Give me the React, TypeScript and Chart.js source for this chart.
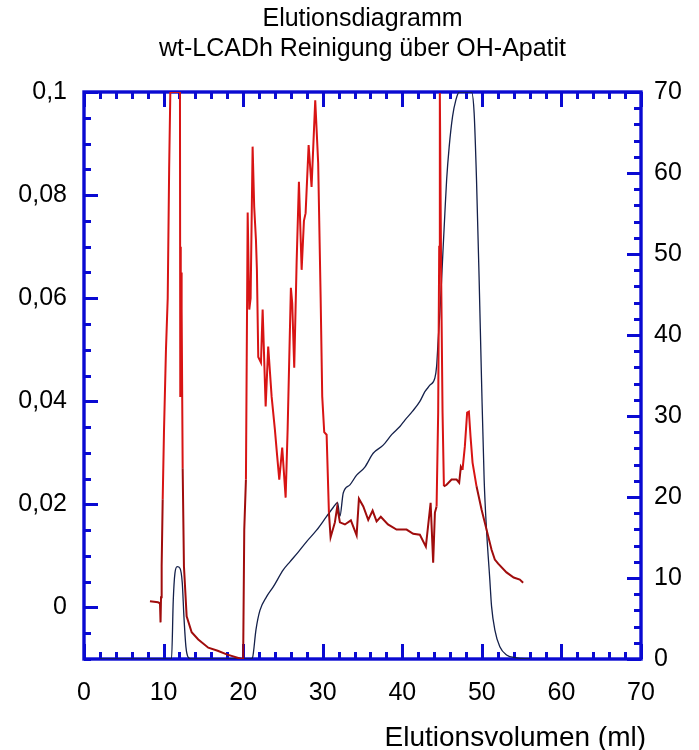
import React, { useEffect, useRef } from "react";
import { Chart, registerables } from "chart.js";

Chart.register(...registerables);

// Absorbance (left axis)
const absX = [8.29, 8.8, 9.3, 9.55, 9.62, 9.68, 9.76, 9.89, 10.05, 10.3,
  10.52, 10.7, 10.85, 11.5, 12.06, 12.1, 12.14, 12.18, 12.22, 12.27,
  12.4, 12.56, 12.9, 13.53, 14.36, 15.62, 16.8, 17.93, 19.6, 20.0,
  20.14, 20.35, 20.57, 20.77, 20.94, 21.19, 21.39, 21.61, 21.73, 21.9,
  22.24, 22.45, 22.83, 23.15, 23.58, 23.99, 24.28, 24.54, 24.91, 25.34,
  25.59, 26.0, 26.17, 26.42, 26.72, 27.01, 27.35, 27.64, 27.85, 28.23,
  28.6, 29.06, 29.43, 29.74, 29.94, 30.19, 30.49, 30.78, 30.99, 31.53,
  31.82, 32.16, 32.79, 33.54, 34.26, 34.55, 35.1, 35.72, 36.27, 36.77,
  37.3, 38.2, 39.28, 40.54, 41.37, 42.21, 42.96, 43.56, 43.88, 44.1,
  44.31, 44.51, 44.64, 44.72, 44.89, 45.06, 45.23, 45.57, 46.19, 46.82,
  47.15, 47.36, 47.57, 47.86, 48.15, 48.37, 48.58, 48.83, 49.33, 49.96,
  50.59, 51.22, 51.63, 52.05, 53.1, 54.0, 54.77, 55.19];
const absY = [0.0012, 0.0011, 0.001, 0.0008, -0.0029, 0.002, 0.008, 0.021, 0.034, 0.05,
  0.06, 0.085, 0.1, 0.1, 0.1, 0.041, 0.07, 0.045, 0.065, 0.058,
  0.027, 0.008, -0.0017, -0.0048, -0.0062, -0.0078, -0.0084, -0.0091, -0.0099, -0.0101,
  0.0151, 0.0248, 0.0766, 0.0578, 0.06, 0.0894, 0.0777, 0.0713, 0.0655, 0.0486,
  0.0475, 0.0578, 0.039, 0.0506, 0.0409, 0.0345, 0.0293, 0.0248, 0.031, 0.0213,
  0.0345, 0.062, 0.059, 0.0465, 0.0669, 0.0826, 0.0655, 0.075, 0.0765, 0.0897,
  0.0816, 0.0984, 0.0862, 0.06, 0.0409, 0.034, 0.0335, 0.0184, 0.0136, 0.0165,
  0.0195, 0.0165, 0.0161, 0.0169, 0.014, 0.0211, 0.0196, 0.017, 0.0188, 0.0167,
  0.0176, 0.0161, 0.0151, 0.0151, 0.0143, 0.0141, 0.0118, 0.0203, 0.0087, 0.0184,
  0.0196, 0.0378, 0.07, 0.0998, 0.0636, 0.0378, 0.0235, 0.0238, 0.0248, 0.0248,
  0.0242, 0.0273, 0.0267, 0.0312, 0.0378, 0.038, 0.0331, 0.0281, 0.0235, 0.019,
  0.0151, 0.0112, 0.0093, 0.0085, 0.0068, 0.0058, 0.0054, 0.0048];

// Conductivity (right axis)
const condX = [2, 11.0, 11.22, 11.43, 11.72, 12.06, 12.35, 12.56, 12.81, 13.1,
  13.53, 21.0, 21.19, 21.61, 22.11, 22.95, 23.78, 25.04, 25.88, 26.92,
  27.98, 29.23, 30.49, 31.32, 31.87, 32.16, 32.58, 33.42, 34.26, 35.3,
  36.34, 37.6, 38.66, 39.7, 40.33, 41.3, 42.21, 42.84, 43.47, 44.1,
  44.31, 44.51, 44.72, 44.94, 45.14, 45.35, 45.57, 45.89, 46.32, 46.73,
  47.15, 48.7, 49.03, 49.33, 49.66, 49.96, 50.29, 50.59, 51.0, 51.22,
  51.63, 52.26, 53.1, 54.36, 56.03];
const condY = [0, 0, 7.3, 10.6, 11.4, 11.2, 9.4, 5.2, 1.5, 0.2,
  0, 0, 0.2, 3.6, 6.0, 7.7, 8.9, 11.0, 12.0, 13.2,
  14.5, 15.9, 17.6, 18.7, 19.3, 17.6, 20.5, 21.5, 22.7, 23.7,
  25.4, 26.4, 27.7, 28.7, 29.5, 30.6, 31.8, 33.0, 33.8, 34.7,
  36.1, 39.4, 42.7, 46.8, 50.9, 55.0, 59.1, 63.2, 67.0, 69.0,
  70, 70, 67.4, 59.1, 46.8, 34.4, 22.1, 15.9, 9.8, 6.5,
  3.6, 1.5, 0.5, 0.15, 0];

const xTickValues = [0, 10, 20, 30, 40, 50, 60, 70];
const leftTickValues = [0, 0.02, 0.04, 0.06, 0.08, 0.1];
const rightTickValues = [0, 10, 20, 30, 40, 50, 60, 70];
const titleLines = ["Elutionsdiagramm", "wt-LCADh Reinigung über OH-Apatit"];
const xAxisTitle = "Elutionsvolumen (ml)";

const FONT = "'Liberation Sans', Arial, Helvetica, sans-serif";
const AXIS_BLUE = "#0a0ad2";
const TICK_FONT = 25;

const zip = (xs: number[], ys: number[]) => xs.map((x, i) => ({ x, y: ys[i] }));

const fmtLeft = (v: number) => {
  const r = Math.round(v * 1000) / 1000;
  return String(r).replace(".", ",");
};

const framePlugin = {
  id: "framePlugin",
  beforeDatasetsDraw(chart: any) {
    const { ctx, chartArea: a, scales } = chart;
    const xs = scales.x, yl = scales.y, yr = scales.y1;
    ctx.save();
    ctx.strokeStyle = AXIS_BLUE;
    ctx.lineCap = "butt";
    const seg = (x1: number, y1: number, x2: number, y2: number) => {
      ctx.beginPath(); ctx.moveTo(x1, y1); ctx.lineTo(x2, y2); ctx.stroke();
    };
    ctx.lineWidth = 3;
    for (let i = 0; i <= 35; i++) {
      const v = i * 2;
      const px = Math.round(xs.getPixelForValue(v)) + 0.5;
      const len = v % 10 === 0 ? 15 : 7;
      seg(px, a.top, px, a.top + len);
      seg(px, a.bottom, px, a.bottom - len);
    }
    for (let i = 0; i <= 22; i++) {
      const v = -0.01 + i * 0.005;
      const py = Math.round(yl.getPixelForValue(v)) + 0.5;
      const major = Math.abs(Math.round(v * 1000) % 20) === 0;
      seg(a.left, py, a.left + (major ? 14 : 7), py);
    }
    for (let i = 0; i <= 35; i++) {
      const v = i * 2;
      const py = Math.round(yr.getPixelForValue(v)) + 0.5;
      const len = v % 10 === 0 ? 14 : 7;
      seg(a.right, py, a.right - len, py);
    }
    ctx.lineWidth = 3.4;
    ctx.strokeRect(a.left, a.top, a.right - a.left, a.bottom - a.top);

    ctx.fillStyle = "#000";
    ctx.textBaseline = "middle";
    ctx.textAlign = "center";
    ctx.font = `25px ${FONT}`;
    const cx = (a.left + a.right) / 2;
    ctx.fillText(titleLines[0], cx, 19);
    ctx.fillText(titleLines[1], cx, 49);
    ctx.textAlign = "right";
    ctx.font = `28px ${FONT}`;
    ctx.fillText(xAxisTitle, 646, 738);
    ctx.restore();
  },
};

export default function App() {
  const ref = useRef<HTMLCanvasElement | null>(null);
  useEffect(() => {
    if (!ref.current) return;
    const chart = new Chart(ref.current, {
      type: "line",
      data: {
        datasets: [
          {
            label: "Absorption",
            data: zip(absX, absY),
            yAxisID: "y",
            borderColor: "#d81414",
            borderWidth: 2,
            pointRadius: 0,
            tension: 0,
            segment: {
              borderColor: (c: any) =>
                c.p0.parsed.y < 0.028 && c.p1.parsed.y < 0.028 ? "#a00c0c" : "#d81414",
            },
          },
          {
            label: "Leitfähigkeit",
            data: zip(condX, condY),
            yAxisID: "y1",
            borderColor: "#14204a",
            borderWidth: 1.3,
            pointRadius: 0,
            cubicInterpolationMode: "monotone",
          },
        ],
      },
      options: {
        responsive: false,
        animation: false,
        events: [],
        layout: { padding: { top: 92, left: 0, right: 0, bottom: 0 } },
        plugins: {
          legend: { display: false },
          tooltip: { enabled: false },
          title: { display: false },
        },
        scales: {
          x: {
            type: "linear",
            position: "bottom",
            min: 0,
            max: 70,
            grid: { display: false, drawTicks: false },
            border: { display: false },
            afterBuildTicks: (s: any) => { s.ticks = xTickValues.map((v) => ({ value: v })); },
            ticks: {
              color: "#000",
              font: { size: TICK_FONT, family: FONT },
              padding: 19,
              maxRotation: 0,
              autoSkip: false,
              callback: (v: any) => String(v),
            },
            afterFit: (s: any) => { s.height = 91; },
          },
          y: {
            type: "linear",
            position: "left",
            min: -0.01,
            max: 0.1,
            grid: { display: false, drawTicks: false },
            border: { display: false },
            afterBuildTicks: (s: any) => { s.ticks = leftTickValues.map((v) => ({ value: v })); },
            ticks: {
              color: "#000",
              font: { size: TICK_FONT, family: FONT },
              padding: 17,
              autoSkip: false,
              callback: (v: any) => fmtLeft(Number(v)),
            },
            afterFit: (s: any) => { s.width = 84; },
          },
          y1: {
            type: "linear",
            position: "right",
            min: 0,
            max: 70,
            grid: { display: false, drawTicks: false },
            border: { display: false },
            afterBuildTicks: (s: any) => { s.ticks = rightTickValues.map((v) => ({ value: v })); },
            ticks: {
              color: "#000",
              font: { size: TICK_FONT, family: FONT },
              padding: 13,
              autoSkip: false,
              callback: (v: any) => String(v),
            },
            afterFit: (s: any) => { s.width = 58; },
          },
        },
      },
      plugins: [framePlugin],
    } as any);
    return () => chart.destroy();
  }, []);
  return (
    <div style={{ position: "fixed", left: 0, top: 0, width: 699, height: 750, background: "#fff" }}>
      <canvas ref={ref} width={699} height={750} style={{ display: "block" }} />
    </div>
  );
}
